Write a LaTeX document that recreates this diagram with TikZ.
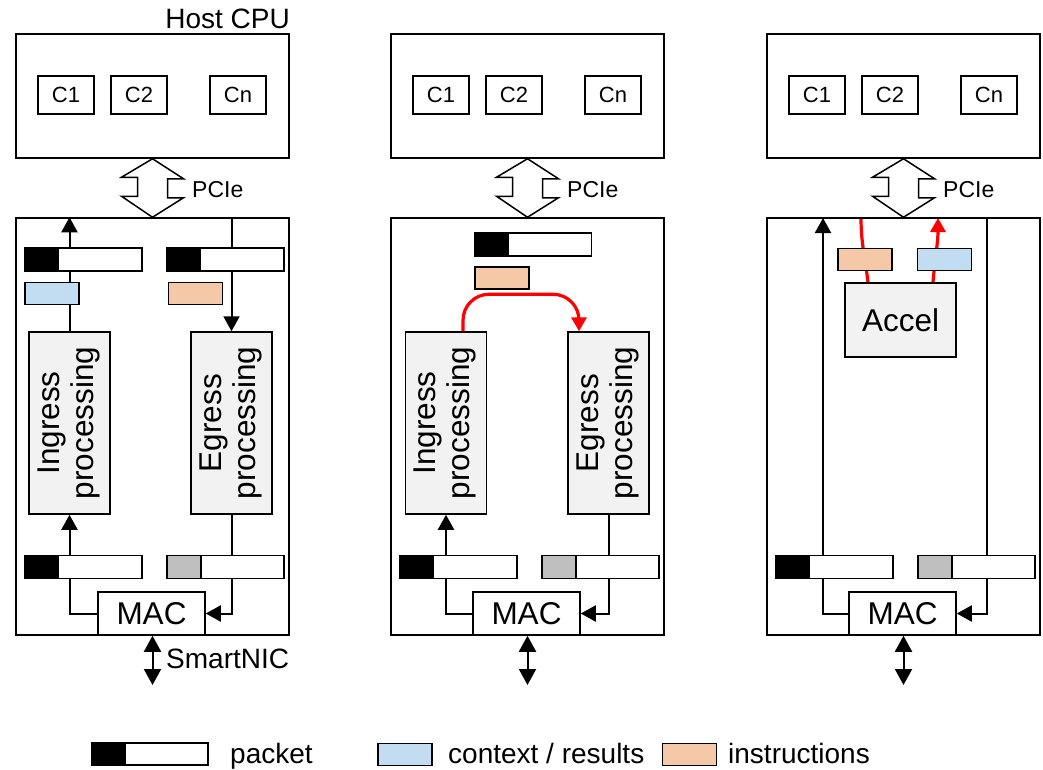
\documentclass[tikz,border=0pt]{standalone}
\usepackage{fontspec}
\setmainfont{Liberation Sans}
\usetikzlibrary{arrows.meta,calc}
\pgfdeclarelayer{back}
\pgfsetlayers{back,main}
\definecolor{ctxblue}{HTML}{C2DDF1}
\definecolor{instrorange}{HTML}{F5C8A7}
\definecolor{procgray}{HTML}{F2F2F2}
\definecolor{hdrgray}{HTML}{BFBFBF}

\tikzset{
  box/.style={draw, line width=1.5pt, inner sep=0pt},
  core/.style={box, fill=white, minimum width=56pt, minimum height=38pt,
    font=\fontsize{22}{26}\selectfont},
  proc/.style={box, fill=procgray, minimum width=81pt, minimum height=182pt,
    font=\fontsize{31.5}{34}\selectfont},
  macbox/.style={box, fill=white, minimum width=107pt, minimum height=43pt,
    font=\fontsize{31.5}{34}\selectfont},
  packet/.style={box, fill=white, minimum width=117pt, minimum height=23pt,
    path picture={\fill[black] (path picture bounding box.north west)
      rectangle ([xshift=34pt]path picture bounding box.south west);}},
  gpacket/.style={box, fill=white, minimum width=117pt, minimum height=23pt,
    path picture={\filldraw[fill=hdrgray, draw=black, line width=1.5pt]
      ([xshift=-2pt,yshift=2pt]path picture bounding box.north west)
      rectangle ([xshift=34pt,yshift=-2pt]path picture bounding box.south west);}},
  ctxbox/.style={box, fill=ctxblue, minimum width=54pt, minimum height=22pt},
  instrbox/.style={box, fill=instrorange, minimum width=54pt, minimum height=22pt},
  conn/.style={line width=2pt, -{Triangle[length=15pt,width=16pt]}},
  dblconn/.style={line width=2pt, {Triangle[length=16pt,width=17pt]}-{Triangle[length=16pt,width=17pt]}},
  redconn/.style={draw=red, line width=3.2pt},
  redtip/.style={-{Triangle[length=14pt,width=15pt]}},
  lbl/.style={inner sep=0pt, font=\fontsize{28}{32}\selectfont},
  smalllbl/.style={inner sep=0pt, font=\fontsize{23}{27}\selectfont},
}

% One host + SmartNIC column: cores, PCIe link, NIC frame, MAC, wire-side queues
\newcommand\nicpanel[2]{%
\begin{scope}[xshift=#2pt]
  \node[box, minimum width=273pt, minimum height=124pt] (#1host) at (152.5,96) {};
  \node[core] (#1ca) at (66,95) {C1};
  \node[core] (#1cb) at (139,95) {C2};
  \node[core] (#1cn) at (238,95) {Cn};
  \node[box, minimum width=273pt, minimum height=417pt] (#1nic) at (152.5,426.5) {};
  \draw[box, fill=white] (#1host.south) -- ++(31,20) -- ++(-16,0) -- ++(0,19)
    -- ++(16,0) -- (#1nic.north) -- ++(-31,-21) -- ++(16,0) -- ++(0,-19)
    -- ++(-16,0) -- cycle;
  \node[smalllbl, anchor=base west] (#1pcie) at (192,197) {PCIe};
  \node[macbox] (#1mac) at (151.5,613.5) {MAC};
  \node[packet] (#1rxq) at (83.5,567) {};
  \node[gpacket] (#1txq) at (225.5,567) {};
  \coordinate (#1net) at (152.5,685);
  \draw[dblconn] (#1nic.south) -- (#1net);
\end{scope}}

\begin{document}
\begin{tikzpicture}[x=1pt, y=-1pt]
\useasboundingbox (0,0) rectangle (1043,769);

% ---------- column 1: host-side processing on the NIC ----------
\nicpanel{a}{0}
\node[lbl, anchor=base east] (hostlbl) at (290,28) {Host CPU};
\node[lbl, anchor=base west] (niclbl) at (166,668) {SmartNIC};
\node[packet] (arxh) at (83.5,259.5) {};
\node[ctxbox] (actx) at (52,293.5) {};
\node[packet] (atxh) at (225.5,259.5) {};
\node[instrbox] (ains) at (195.5,293.5) {};
\node[proc] (aing) at (69.5,423)
  {\rotatebox{90}{\begin{tabular}{@{}c@{}}Ingress\\processing\end{tabular}}};
\node[proc] (aeg) at (231.5,423)
  {\rotatebox{90}{\begin{tabular}{@{}c@{}}Egress\\processing\end{tabular}}};
\begin{pgfonlayer}{back}
  \draw[conn] (aing.north) -- (aing.north |- anic.north);
  \draw[conn] (aeg.north |- anic.north) -- (aeg.north);
  \draw[conn] (amac.west) -| (aing.south);
  \draw[conn] (aeg.south) |- (amac.east);
\end{pgfonlayer}

% ---------- column 2: ingress hands work straight to egress ----------
\nicpanel{b}{375}
\begin{scope}[xshift=375pt]
\node[packet] (bpkt) at (158,244.5) {};
\node[instrbox] (bins) at (127,278) {};
\node[proc] (bing) at (71,423)
  {\rotatebox{90}{\begin{tabular}{@{}c@{}}Ingress\\processing\end{tabular}}};
\node[proc] (beg) at (233.5,423)
  {\rotatebox{90}{\begin{tabular}{@{}c@{}}Egress\\processing\end{tabular}}};
\end{scope}
\begin{pgfonlayer}{back}
  \draw[conn] (bmac.west) -| (bing.south);
  \draw[conn] (beg.south) |- (bmac.east);
\end{pgfonlayer}
\draw[redconn, redtip, rounded corners=26pt]
  ($(bing.north)+(17,0)$) |- ($(beg.north)+(-29.5,-37)$) -- ($(beg.north)+(-29.5,0)$);

% ---------- column 3: on-NIC accelerator ----------
\nicpanel{c}{751}
\begin{scope}[xshift=751pt]
\node[instrbox] (cins) at (114,259.5) {};
\node[ctxbox] (cctx) at (193.5,259.5) {};
\node[box, fill=procgray, minimum width=111pt, minimum height=74pt,
  font=\fontsize{31.5}{34}\selectfont] (cacc) at (149.5,320) {Accel};
\coordinate (cup) at (72,218);
\coordinate (cdown) at (236,218);
\coordinate (cinsrc) at (110,218);
\coordinate (cresdst) at (187,218);
\end{scope}
\begin{pgfonlayer}{back}
  \draw[conn] (cmac.west) -| (cup);
  \draw[conn] (cdown) |- (cmac.east);
  \draw[redconn] ($(cacc.north)+(-32.5,0)$) .. controls +(-3,-25) and +(0,25) .. (cinsrc);
  \draw[redconn, redtip]
    ($(cacc.north)+(32.5,0)$) .. controls +(2,-25) and +(0,25) .. (cresdst);
\end{pgfonlayer}

% ---------- legend ----------
\node[packet, minimum width=116pt, minimum height=22pt] (legpkt) at (150,754) {};
\node[lbl, anchor=base west] (legpkttxt) at (230,763) {packet};
\node[ctxbox] (legctx) at (405,754.5) {};
\node[lbl, anchor=base west] (legctxtxt) at (448,763) {context / results};
\node[instrbox] (legins) at (689.5,754.5) {};
\node[lbl, anchor=base west] (leginstxt) at (728,763) {instructions};
\end{tikzpicture}
\end{document}
